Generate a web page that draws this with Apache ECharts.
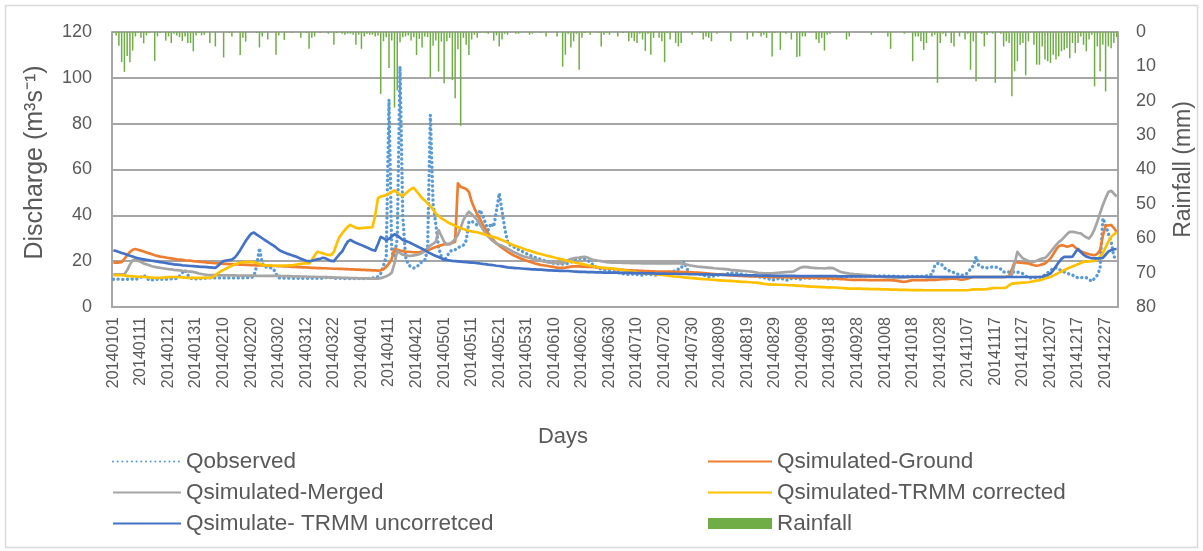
<!DOCTYPE html>
<html>
<head>
<meta charset="utf-8">
<script src="https://cdn.jsdelivr.net/npm/echarts@6/dist/echarts.min.js"></script>
<style>
  html, body { margin: 0; padding: 0; background: #ffffff; }
  #chart { width: 1203px; height: 551px; }
</style>
</head>
<body>
<div id="chart"></div>
<script>
// Daily discharge and rainfall, 1 Jan 2014 - 31 Dec 2014

// Category axis: one entry per day, formatted YYYYMMDD
const YEAR = 2014;
const DAY_COUNT = 365;
const days = [];
for (let i = 0; i < DAY_COUNT; i++) {
  const d = new Date(Date.UTC(YEAR, 0, 1 + i));
  days.push(d.toISOString().slice(0, 10).replace(/-/g, ''));
}

// Daily rainfall (mm), right axis, drawn downward from the top
const rainfall = [
  0.3, 1.0, 4.0, 8.7, 11.6, 7.0, 8.8, 5.4, 1.3, 0.3,
  1.7, 3.3, 1.0, 0.3, 0, 8.4, 1.3, 0.3, 0, 2.5,
  1.3, 3.2, 0.5, 1.0, 1.5, 2.6, 1.3, 3.2, 3.2, 5.6,
  1.0, 0.3, 1.0, 0.8, 0, 3.2, 0, 4.2, 0, 0,
  7.4, 0, 0.3, 1.3, 0, 0, 6.7, 1.7, 2.8, 0,
  0, 0, 0.3, 4.5, 1.3, 0, 2.2, 0, 0, 6.6,
  1.0, 0, 2.3, 0, 0, 0.3, 0, 0, 1.7, 0,
  0.3, 4.9, 1.7, 1.3, 0, 0.3, 0, 0, 0.5, 0,
  3.7, 0.3, 0, 0.5, 0.8, 0.5, 0.5, 0.8, 3.7, 0.8,
  4.9, 1.3, 0.5, 0.8, 0.8, 1.3, 1.0, 18.0, 2.7, 1.5,
  10.5, 2.5, 22.0, 17.0, 3.0, 1.5, 1.3, 1.0, 2.5, 1.5,
  6.7, 2.0, 4.5, 1.3, 1.5, 13.2, 4.0, 2.5, 11.5, 2.8,
  14.9, 2.7, 1.7, 14.0, 19.3, 5.0, 27.3, 1.7, 3.7, 6.7,
  2.2, 0.8, 1.7, 0.3, 0, 0.3, 0.5, 0, 2.5, 1.0,
  4.2, 2.2, 0.5, 0.8, 0, 0, 0.5, 0.5, 0, 0,
  0, 0.8, 0.5, 0, 0, 0.3, 0, 1.3, 0, 0,
  0, 1.3, 0, 10.1, 6.6, 0.5, 4.5, 2.7, 0.5, 11.0,
  1.7, 0.3, 0, 0.8, 0, 0, 0.3, 4.2, 0.8, 0.3,
  0.8, 0, 0, 1.3, 0, 0.3, 0, 2.7, 1.7, 2.7,
  3.2, 0.5, 2.2, 5.5, 0.5, 6.6, 1.7, 0, 1.7, 2.7,
  8.8, 0.3, 2.2, 0, 3.2, 4.2, 3.2, 0, 0, 0,
  0.8, 0, 0, 0.3, 2.2, 1.3, 1.7, 2.7, 0, 0.5,
  0, 0, 0, 0, 2.7, 0, 0, 0, 0, 0,
  2.2, 0, 1.3, 0, 0.3, 1.3, 0.8, 1.7, 0, 7.1,
  0.3, 0, 5.2, 0, 0.5, 0, 2.2, 0, 7.3, 7.1,
  1.3, 1.3, 0, 0, 0, 2.2, 3.2, 1.7, 5.4, 0.8,
  0.5, 0, 0, 0, 0, 0, 2.2, 1.3, 0, 0,
  0, 0, 0, 0, 0, 0.8, 0, 0, 0, 0,
  0, 1.3, 4.9, 0, 0, 0, 0, 0.5, 0, 0,
  8.5, 1.3, 1.3, 2.7, 5.2, 3.2, 0, 1.3, 0.8, 14.8,
  3.2, 0.5, 1.3, 0, 3.2, 4.2, 0, 1.3, 0, 2.2,
  0.5, 11.0, 2.7, 14.3, 0, 0.5, 4.2, 0.8, 0, 0.5,
  14.8, 0, 0.5, 4.2, 2.7, 3.2, 18.7, 11.4, 8.5, 3.7,
  3.2, 12.6, 2.7, 0, 3.7, 9.5, 9.5, 4.2, 8.0, 8.5,
  9.0, 6.6, 8.0, 7.1, 5.6, 5.2, 4.7, 7.6, 3.2, 6.1,
  3.2, 1.3, 3.7, 5.6, 2.2, 0.8, 15.8, 4.2, 11.4, 3.7,
  17.3, 4.2, 4.7, 3.2, 1.5
];

// Observed discharge (m3/s)
const qObserved = [
  12.1, 12.1, 12.2, 12.1, 12.0, 12.1, 12.3, 12.2, 12.1, 12.3,
  13.0, 13.9, 12.8, 11.7, 11.8, 12.0, 12.1, 12.2, 12.0, 12.1,
  12.2, 12.3, 12.3, 12.4, 13.5, 15.0, 16.1, 14.0, 12.5, 12.4,
  12.3, 12.3, 12.4, 12.5, 12.6, 12.7, 12.7, 12.7, 12.7, 12.7,
  12.7, 12.7, 12.7, 12.7, 12.7, 12.7, 12.7, 12.7, 12.8, 12.8,
  12.8, 13.5, 18.0, 25.7, 19.0, 17.5, 17.3, 17.1, 16.8, 14.5,
  12.7, 12.7, 12.6, 12.6, 12.6, 12.6, 12.5, 12.5, 12.5, 12.5,
  12.5, 12.5, 12.5, 12.5, 12.5, 12.5, 12.6, 12.8, 13.1, 12.8,
  12.6, 12.5, 12.5, 12.5, 12.4, 12.4, 12.4, 12.4, 12.4, 12.4,
  12.4, 12.4, 12.5, 12.5, 12.6, 12.8, 13.2, 14.6, 18.0, 22.0,
  90.5, 24.0, 22.0, 30.0, 105.0, 40.0, 22.0, 18.5, 17.5, 17.0,
  17.5, 18.5, 20.0, 20.5, 25.0, 83.8, 45.0, 36.0, 26.0, 22.0,
  20.0, 22.0, 24.0, 25.0, 25.0, 26.0, 26.3, 27.0, 29.0, 37.0,
  37.5, 36.5, 35.8, 42.3, 40.0, 36.5, 33.6, 36.5, 35.0, 42.0,
  49.6, 42.0, 34.3, 28.5, 27.0, 26.3, 25.8, 25.0, 24.5, 23.8,
  23.2, 22.6, 22.0, 21.6, 21.2, 20.8, 20.4, 20.0, 19.6, 19.3,
  19.0, 18.9, 18.8, 18.7, 18.8, 19.0, 19.5, 20.5, 21.0, 21.2,
  21.2, 21.0, 20.5, 19.5, 18.5, 17.5, 17.0, 16.5, 16.2, 16.0,
  15.8, 15.5, 15.2, 15.0, 14.8, 14.5, 14.3, 14.2, 14.2, 14.5,
  14.2, 14.0, 13.9, 14.2, 14.5, 14.2, 14.0, 13.9, 14.2, 14.5,
  14.8, 15.0, 15.3, 15.5, 15.8, 16.5, 16.8, 19.7, 16.8, 15.2,
  14.8, 14.6, 14.5, 14.4, 14.0, 13.5, 13.1, 13.3, 13.6, 13.8,
  14.0, 14.2, 14.4, 14.6, 14.8, 15.0, 14.8, 14.5, 14.3, 14.0,
  13.9, 13.7, 13.6, 13.4, 13.2, 13.0, 12.8, 12.5, 12.2, 11.7,
  12.0, 12.3, 12.6, 12.2, 11.7, 11.8, 12.5, 12.7, 12.4, 12.1,
  12.4, 12.7, 12.7, 12.5, 12.7, 12.7, 12.5, 12.7, 12.8, 12.4,
  12.1, 12.3, 12.6, 12.9, 13.1, 13.2, 13.3, 13.4, 13.4, 13.5,
  13.5, 13.5, 13.5, 13.5, 13.5, 13.5, 13.5, 13.5, 13.5, 13.5,
  13.5, 13.5, 13.4, 13.4, 13.4, 13.3, 13.3, 13.3, 13.3, 13.3,
  13.3, 13.3, 13.3, 13.3, 13.4, 13.6, 13.9, 14.2, 18.0, 19.0,
  19.0, 18.0, 16.5, 16.0, 15.3, 15.0, 14.5, 14.0, 13.9, 14.0,
  15.0, 16.5, 18.0, 21.9, 18.0, 17.5, 17.1, 17.1, 17.3, 17.5,
  17.4, 17.2, 16.5, 15.3, 15.3, 15.3, 15.3, 15.3, 15.2, 15.0,
  14.5, 13.5, 12.7, 12.7, 12.8, 12.9, 13.0, 13.2, 14.0, 15.0,
  16.0, 16.8, 17.1, 16.5, 15.8, 15.3, 14.8, 14.3, 13.9, 13.3,
  12.7, 12.8, 12.9, 12.8, 12.0, 11.2, 12.5, 13.9, 16.8, 38.7,
  36.0, 32.0, 28.5, 22.0, 21.0
];

// Simulated discharge driven by ground-station rainfall (m3/s)
const qGround = [
  19.4, 19.4, 19.4, 19.6, 21.0, 22.6, 24.0, 25.0, 25.3, 25.0,
  24.6, 24.2, 23.8, 23.4, 23.0, 22.6, 22.3, 22.0, 21.8, 21.6,
  21.4, 21.2, 21.0, 20.8, 20.7, 20.6, 20.4, 20.3, 20.2, 20.0,
  19.9, 19.8, 19.7, 19.6, 19.4, 19.3, 19.2, 19.1, 19.0, 18.9,
  18.8, 18.8, 18.7, 18.7, 18.6, 18.6, 18.5, 18.5, 18.4, 18.4,
  18.3, 18.3, 18.2, 18.2, 18.1, 18.1, 18.0, 18.0, 17.9, 17.9,
  17.8, 17.8, 17.7, 17.7, 17.6, 17.5, 17.5, 17.4, 17.4, 17.3,
  17.3, 17.2, 17.1, 17.1, 17.0, 17.0, 16.9, 16.9, 16.8, 16.8,
  16.7, 16.7, 16.6, 16.6, 16.5, 16.5, 16.4, 16.4, 16.3, 16.3,
  16.2, 16.2, 16.1, 16.1, 16.0, 16.0, 15.9, 16.0, 16.5, 17.5,
  19.0, 21.0, 25.5, 25.0, 24.6, 24.4, 24.2, 24.1, 24.0, 23.9,
  23.8, 23.9, 24.2, 24.5, 24.8, 25.2, 25.7, 26.2, 26.6, 27.0,
  27.3, 27.5, 27.7, 28.0, 28.5, 54.0, 52.4, 52.0, 51.5, 50.2,
  46.0, 43.0, 40.5, 38.5, 36.0, 34.0, 32.2, 30.5, 29.0, 27.7,
  26.8, 25.9, 25.0, 24.2, 23.4, 22.7, 22.1, 21.6, 21.1, 20.6,
  20.2, 19.8, 19.4, 19.0, 18.7, 18.4, 18.2, 18.0, 17.8, 17.6,
  17.4, 17.2, 17.1, 17.1, 17.2, 17.4, 17.6, 17.7, 17.7, 17.7,
  17.6, 17.6, 17.5, 17.5, 17.5, 17.4, 17.3, 17.1, 17.0, 16.9,
  16.8, 16.7, 16.5, 16.4, 16.3, 16.2, 16.1, 16.0, 16.0, 15.9,
  15.9, 15.8, 15.8, 15.7, 15.7, 15.6, 15.6, 15.5, 15.5, 15.5,
  15.4, 15.4, 15.4, 15.3, 15.3, 15.3, 15.2, 15.2, 15.2, 15.1,
  15.1, 15.0, 15.0, 14.9, 14.8, 14.7, 14.6, 14.5, 14.4, 14.3,
  14.2, 14.1, 14.0, 13.9, 13.8, 13.8, 13.7, 13.6, 13.6, 13.5,
  13.5, 13.4, 13.4, 13.3, 13.3, 13.2, 13.2, 13.1, 13.1, 13.0,
  13.0, 13.0, 13.0, 13.0, 13.0, 12.9, 12.9, 12.9, 12.8, 12.8,
  12.8, 12.7, 12.7, 12.7, 12.7, 12.7, 12.6, 12.6, 12.6, 12.6,
  12.5, 12.5, 12.4, 12.3, 12.2, 12.1, 12.0, 11.9, 11.8, 11.8,
  11.8, 11.8, 11.8, 11.8, 11.7, 11.7, 11.7, 11.7, 11.7, 11.7,
  11.7, 11.7, 11.7, 11.6, 11.5, 11.3, 11.1, 11.0, 11.2, 11.5,
  11.7, 11.7, 11.7, 11.7, 11.7, 11.7, 11.8, 11.8, 11.8, 11.9,
  12.0, 12.1, 12.2, 12.3, 12.4, 12.4, 12.3, 12.0, 11.9, 12.1,
  12.4, 12.8, 13.1, 13.1, 13.1, 13.1, 13.1, 13.1, 13.1, 13.1,
  13.1, 13.1, 13.1, 13.1, 13.2, 13.5, 16.5, 19.7, 19.5, 19.3,
  19.2, 19.1, 19.0, 18.6, 18.2, 18.0, 18.2, 18.6, 19.0, 20.0,
  21.2, 23.0, 25.0, 26.5, 27.0, 26.7, 26.3, 26.6, 27.0, 26.0,
  24.8, 24.3, 23.8, 23.4, 23.0, 22.8, 22.6, 23.2, 24.8, 31.0,
  35.5, 35.6, 35.8, 34.5, 32.8
];

// Simulated discharge driven by merged rainfall (m3/s)
const qMerged = [
  14.2, 14.2, 14.2, 14.2, 14.3, 16.0, 18.5, 20.4, 20.8, 20.2,
  19.6, 19.0, 18.6, 18.2, 17.8, 17.5, 17.3, 17.1, 16.9, 16.7,
  16.5, 16.4, 16.2, 16.1, 16.0, 15.8, 15.7, 15.5, 15.4, 15.3,
  15.0, 14.6, 14.4, 14.2, 14.0, 13.9, 13.9, 13.9, 13.8, 13.8,
  13.8, 13.8, 13.8, 13.8, 13.8, 13.7, 13.7, 13.7, 13.7, 13.7,
  13.7, 13.7, 13.6, 13.6, 13.6, 13.6, 13.6, 13.6, 13.6, 13.6,
  13.6, 13.5, 13.5, 13.5, 13.5, 13.4, 13.4, 13.4, 13.3, 13.3,
  13.3, 13.2, 13.2, 13.2, 13.1, 13.1, 13.0, 13.0, 12.9, 12.9,
  12.8, 12.8, 12.8, 12.7, 12.7, 12.7, 12.6, 12.6, 12.6, 12.5,
  12.5, 12.5, 12.5, 12.4, 12.4, 12.4, 12.4, 12.6, 13.0, 13.4,
  14.0, 15.0, 19.0, 24.5, 23.5, 22.8, 22.6, 22.4, 22.3, 22.5,
  22.7, 23.0, 23.6, 24.6, 25.7, 26.8, 27.6, 28.5, 33.6, 31.0,
  28.5, 27.3, 27.3, 28.5, 29.5, 31.5, 34.5, 38.0, 40.0, 41.6,
  40.5, 39.2, 38.0, 36.0, 34.0, 32.3, 30.7, 29.5, 28.5, 27.7,
  27.2, 26.7, 26.1, 25.5, 24.8, 24.1, 23.6, 23.0, 22.5, 22.0,
  21.7, 21.4, 21.1, 20.8, 20.5, 20.2, 19.9, 19.7, 19.5, 19.3,
  19.2, 19.1, 19.0, 19.0, 19.5, 20.5, 20.9, 21.2, 21.5, 21.6,
  21.8, 21.9, 21.6, 21.0, 20.6, 20.4, 20.2, 20.0, 19.8, 19.6,
  19.5, 19.4, 19.4, 19.3, 19.3, 19.2, 19.2, 19.2, 19.1, 19.1,
  19.1, 19.1, 19.0, 19.0, 19.0, 19.0, 19.0, 19.0, 19.0, 19.0,
  19.0, 19.0, 19.0, 19.0, 19.0, 19.0, 19.0, 18.8, 18.5, 18.2,
  18.0, 17.8, 17.6, 17.5, 17.4, 17.3, 17.2, 17.1, 16.9, 16.8,
  16.7, 16.6, 16.5, 16.4, 16.2, 16.1, 16.0, 15.9, 15.8, 15.7,
  15.6, 15.5, 15.3, 15.1, 14.9, 14.8, 14.7, 14.7, 14.7, 14.7,
  14.8, 14.9, 15.0, 15.1, 15.2, 15.3, 15.3, 15.6, 16.3, 17.0,
  17.4, 17.5, 17.4, 17.2, 17.1, 17.0, 16.9, 16.9, 16.8, 17.0,
  17.1, 17.0, 16.4, 15.8, 15.3, 15.0, 14.8, 14.6, 14.5, 14.3,
  14.2, 14.1, 14.0, 13.9, 13.8, 13.7, 13.5, 13.4, 13.2, 13.1,
  13.0, 12.9, 12.9, 12.8, 12.8, 12.7, 12.7, 12.8, 12.9, 13.0,
  13.1, 13.1, 13.1, 13.1, 13.1, 13.1, 13.1, 13.1, 13.1, 13.1,
  13.1, 13.1, 13.1, 13.1, 13.1, 13.1, 13.1, 13.1, 13.1, 13.1,
  13.1, 13.1, 13.1, 13.1, 13.1, 13.1, 13.1, 13.1, 13.1, 13.1,
  13.1, 13.1, 13.1, 13.1, 13.2, 13.4, 14.0, 19.0, 24.1, 22.5,
  21.2, 20.6, 20.1, 19.7, 19.7, 20.2, 20.7, 21.2, 21.4, 22.5,
  24.0, 25.5, 27.0, 28.3, 29.2, 30.5, 31.8, 32.8, 32.8, 32.6,
  32.3, 32.1, 31.2, 30.4, 29.9, 31.5, 34.0, 37.2, 41.0, 44.5,
  47.5, 50.2, 50.7, 49.5, 48.2
];

// Simulated discharge driven by bias-corrected TRMM rainfall (m3/s)
const qTrmmCorrected = [
  13.9, 13.9, 13.9, 13.9, 13.8, 13.6, 13.5, 13.4, 13.3, 13.2,
  13.2, 13.1, 13.0, 12.9, 12.8, 12.7, 12.7, 12.7, 12.8, 12.9,
  13.0, 13.1, 13.1, 13.1, 13.0, 12.9, 12.8, 12.7, 12.7, 12.7,
  12.7, 12.7, 12.7, 12.7, 12.7, 12.7, 13.0, 13.9, 14.8, 15.6,
  16.2, 16.8, 17.4, 18.0, 18.6, 19.0, 19.3, 19.5, 19.6, 19.7,
  19.7, 19.5, 19.2, 18.8, 18.5, 18.2, 18.2, 18.1, 18.0, 18.0,
  18.0, 18.0, 18.1, 18.1, 18.2, 18.2, 18.4, 18.6, 18.8, 19.0,
  19.0, 19.0, 20.5, 22.5, 24.1, 23.8, 23.4, 23.0, 22.7, 22.6,
  24.0, 27.5, 30.5, 32.1, 33.6, 35.0, 35.8, 35.2, 34.6, 34.3,
  34.4, 34.5, 34.6, 34.7, 34.8, 40.0, 47.5, 48.2, 48.5, 48.9,
  49.5, 50.2, 50.9, 50.0, 49.0, 48.4, 49.5, 50.5, 51.5, 52.0,
  50.5, 49.0, 47.5, 46.5, 45.2, 44.0, 42.5, 40.8, 39.8, 38.7,
  38.0, 37.2, 36.5, 36.0, 35.4, 34.9, 34.4, 34.0, 33.6, 33.3,
  33.0, 32.8, 32.6, 32.3, 31.9, 31.5, 31.1, 30.8, 30.5, 30.2,
  29.7, 29.2, 28.7, 28.2, 27.6, 27.0, 26.6, 26.2, 25.8, 25.3,
  24.9, 24.6, 24.2, 23.8, 23.4, 23.1, 22.8, 22.5, 22.2, 21.9,
  21.6, 21.3, 21.0, 20.8, 20.4, 20.1, 19.8, 19.5, 19.2, 19.0,
  18.8, 18.5, 18.2, 18.0, 17.8, 17.5, 17.4, 17.2, 17.1, 17.0,
  16.9, 16.8, 16.7, 16.5, 16.3, 16.1, 15.9, 15.7, 15.5, 15.3,
  15.1, 14.9, 14.8, 14.7, 14.6, 14.5, 14.4, 14.2, 14.1, 14.0,
  13.9, 13.7, 13.6, 13.4, 13.3, 13.2, 13.1, 12.9, 12.8, 12.7,
  12.6, 12.5, 12.4, 12.3, 12.2, 12.1, 12.0, 11.9, 11.8, 11.7,
  11.6, 11.5, 11.5, 11.4, 11.4, 11.3, 11.2, 11.1, 11.0, 11.0,
  10.9, 10.8, 10.7, 10.6, 10.5, 10.3, 10.1, 10.0, 9.9, 9.8,
  9.8, 9.7, 9.7, 9.6, 9.6, 9.5, 9.5, 9.4, 9.3, 9.2,
  9.2, 9.1, 9.0, 8.9, 8.9, 8.8, 8.8, 8.7, 8.7, 8.6,
  8.6, 8.5, 8.5, 8.4, 8.3, 8.2, 8.1, 8.0, 8.0, 8.0,
  8.0, 8.0, 7.9, 7.9, 7.9, 7.8, 7.8, 7.8, 7.8, 7.7,
  7.7, 7.7, 7.6, 7.6, 7.6, 7.5, 7.5, 7.5, 7.5, 7.4,
  7.4, 7.4, 7.4, 7.4, 7.3, 7.3, 7.3, 7.3, 7.3, 7.3,
  7.3, 7.3, 7.3, 7.3, 7.3, 7.3, 7.3, 7.3, 7.3, 7.3,
  7.3, 7.5, 7.7, 7.7, 7.7, 7.7, 7.7, 7.8, 8.0, 8.2,
  8.3, 8.3, 8.3, 8.3, 8.5, 9.5, 10.2, 10.3, 10.4, 10.5,
  10.6, 10.7, 10.8, 11.0, 11.3, 11.5, 11.7, 12.0, 12.5, 12.8,
  13.1, 13.7, 14.3, 14.9, 15.5, 16.1, 16.7, 17.2, 17.7, 18.2,
  18.7, 19.2, 19.7, 19.8, 19.9, 20.0, 20.1, 20.8, 21.9, 23.5,
  26.0, 28.5, 30.5, 31.6, 32.6
];

// Simulated discharge driven by uncorrected TRMM rainfall (m3/s)
const qTrmmUncorrected = [
  24.8, 24.4, 24.0, 23.6, 23.2, 22.8, 22.4, 22.0, 21.6, 21.3,
  21.0, 20.8, 20.6, 20.4, 20.2, 20.0, 19.8, 19.6, 19.4, 19.2,
  19.0, 18.8, 18.6, 18.5, 18.4, 18.2, 18.1, 18.0, 17.9, 17.8,
  17.7, 17.6, 17.5, 17.5, 17.4, 17.3, 17.2, 17.1, 18.0, 19.2,
  20.0, 20.3, 20.5, 20.7, 21.5, 23.0, 24.8, 26.8, 28.8, 30.5,
  32.0, 32.5, 31.6, 30.8, 30.0, 29.2, 28.4, 27.6, 26.9, 26.0,
  25.0, 24.3, 23.8, 23.3, 22.9, 22.5, 22.1, 21.6, 21.1, 20.6,
  20.2, 20.0, 20.2, 20.5, 20.8, 21.0, 21.5, 21.2, 20.6, 20.1,
  20.0, 21.5, 23.0, 24.2, 26.5, 28.5, 29.3, 28.6, 28.0, 27.5,
  27.0, 26.5, 26.0, 25.4, 24.9, 24.6, 27.5, 30.6, 30.0, 29.2,
  29.8, 30.8, 31.7, 31.2, 30.2, 29.2, 28.8, 28.4, 27.8, 27.2,
  26.6, 26.0, 25.4, 24.8, 24.0, 23.4, 22.8, 22.3, 21.8, 21.3,
  20.8, 20.5, 20.3, 20.1, 20.0, 19.9, 19.8, 19.7, 19.6, 19.5,
  19.4, 19.3, 19.1, 19.0, 18.8, 18.7, 18.5, 18.4, 18.2, 18.0,
  17.9, 17.7, 17.5, 17.3, 17.2, 17.1, 17.0, 16.9, 16.8, 16.7,
  16.6, 16.5, 16.4, 16.4, 16.3, 16.3, 16.2, 16.1, 16.0, 16.0,
  15.9, 15.9, 15.8, 15.8, 15.7, 15.7, 15.6, 15.5, 15.4, 15.3,
  15.3, 15.3, 15.2, 15.2, 15.2, 15.1, 15.1, 15.1, 15.0, 15.0,
  15.0, 15.0, 15.0, 15.0, 14.9, 14.9, 14.9, 14.9, 14.9, 14.8,
  14.8, 14.8, 14.8, 14.7, 14.7, 14.7, 14.7, 14.6, 14.6, 14.6,
  14.6, 14.5, 14.5, 14.5, 14.5, 14.4, 14.4, 14.4, 14.4, 14.3,
  14.3, 14.3, 14.3, 14.2, 14.2, 14.2, 14.2, 14.1, 14.1, 14.1,
  14.1, 14.0, 14.0, 14.0, 14.0, 13.9, 13.9, 13.9, 13.9, 13.8,
  13.8, 13.8, 13.8, 13.8, 13.7, 13.7, 13.7, 13.7, 13.7, 13.6,
  13.6, 13.6, 13.6, 13.6, 13.6, 13.6, 13.6, 13.6, 13.5, 13.5,
  13.5, 13.5, 13.5, 13.5, 13.5, 13.5, 13.5, 13.5, 13.5, 13.5,
  13.5, 13.5, 13.5, 13.4, 13.4, 13.4, 13.4, 13.4, 13.4, 13.4,
  13.4, 13.4, 13.3, 13.3, 13.3, 13.3, 13.3, 13.3, 13.3, 13.3,
  13.3, 13.3, 13.3, 13.3, 13.3, 13.2, 13.2, 13.2, 13.2, 13.2,
  13.2, 13.2, 13.2, 13.2, 13.2, 13.1, 13.1, 13.1, 13.1, 13.1,
  13.1, 13.1, 13.1, 13.1, 13.1, 13.1, 13.1, 13.1, 13.1, 13.1,
  13.1, 13.1, 13.1, 13.1, 13.1, 13.1, 13.1, 13.1, 13.1, 13.1,
  13.1, 13.1, 13.1, 13.1, 13.1, 13.1, 13.1, 13.1, 13.1, 13.1,
  13.1, 13.1, 13.1, 13.1, 13.1, 13.1, 13.1, 13.2, 13.6, 14.0,
  14.6, 16.0, 17.8, 19.5, 21.0, 21.9, 21.9, 21.9, 22.0, 23.8,
  25.3, 24.0, 22.8, 22.0, 21.6, 21.3, 21.2, 21.2, 21.2, 21.4,
  22.8, 24.2, 24.8, 25.2, 25.3
];

const FONT = '"Liberation Sans", Arial, Helvetica, sans-serif';
const TEXT_GREY = '#595959';
const RULE_GREY = '#a6a6a6';
const LINE_W = 2.7;

const chart = echarts.init(document.getElementById('chart'), null, { renderer: 'canvas' });

const lineSeries = (name, data, color, lineStyle) => ({
  name: name,
  type: 'line',
  data: data,
  yAxisIndex: 0,
  symbol: 'none',
  showSymbol: false,
  smooth: false,
  itemStyle: { color: color },
  lineStyle: Object.assign({ color: color, width: LINE_W, join: 'round' }, lineStyle || {}),
  emphasis: { disabled: true }
});

// Legend entries for lines: hide the marker dot, keep the stroke
const lineKey = (name) => ({ name: name, itemStyle: { opacity: 0 } });

const legendBase = {
  orient: 'vertical',
  top: 450,
  padding: 0,
  itemGap: 8,
  itemHeight: 11,
  selectedMode: false,
  textStyle: { fontSize: 22.5, lineHeight: 22, color: TEXT_GREY, fontFamily: FONT }
};

chart.setOption({
  animation: false,
  backgroundColor: '#ffffff',
  textStyle: { fontFamily: FONT },
  grid: { left: 112, top: 32, width: 1014, height: 275, containLabel: false },
  xAxis: {
    type: 'category',
    data: days,
    boundaryGap: true,
    axisLine: { show: true, lineStyle: { color: RULE_GREY, width: 2 } },
    axisTick: { show: false },
    splitLine: { show: false },
    axisLabel: {
      interval: 9,
      rotate: 90,
      margin: 10,
      fontSize: 16,
      color: TEXT_GREY,
      fontFamily: FONT
    }
  },
  yAxis: [
    {
      type: 'value',
      position: 'left',
      min: 0,
      max: 120,
      interval: 20,
      axisLine: { show: true, lineStyle: { color: RULE_GREY, width: 2 } },
      axisTick: { show: false },
      splitLine: { show: true, lineStyle: { color: RULE_GREY, width: 2 } },
      axisLabel: { fontSize: 18, color: TEXT_GREY, margin: 20, fontFamily: FONT },
      name: 'Discharge (m³s⁻¹)',
      nameLocation: 'middle',
      nameGap: 64,
      nameTextStyle: { fontSize: 25, color: TEXT_GREY, fontFamily: FONT, padding: [0, 0, 0, 14] }
    },
    {
      type: 'value',
      position: 'right',
      min: 0,
      max: 80,
      interval: 10,
      inverse: true,
      axisLine: { show: true, lineStyle: { color: RULE_GREY, width: 2 } },
      axisTick: { show: false },
      splitLine: { show: false },
      axisLabel: { fontSize: 18, color: TEXT_GREY, margin: 18, fontFamily: FONT },
      name: 'Rainfall (mm)',
      nameLocation: 'middle',
      nameRotate: 90,
      nameGap: 54,
      nameTextStyle: { fontSize: 23, color: TEXT_GREY, fontFamily: FONT }
    }
  ],
  legend: [
    Object.assign({}, legendBase, {
      left: 112,
      itemWidth: 68,
      data: [lineKey('Qobserved'), lineKey('Qsimulated-Merged'), lineKey('Qsimulate- TRMM uncorretced')]
    }),
    Object.assign({}, legendBase, {
      left: 707,
      itemWidth: 64,
      data: [lineKey('Qsimulated-Ground'), lineKey('Qsimulated-TRMM corrected'), { name: 'Rainfall', icon: 'rect' }]
    })
  ],
  graphic: [
    {
      type: 'rect',
      silent: true,
      z: -10,
      shape: { x: 5.5, y: 5.5, width: 1192, height: 542 },
      style: { fill: 'none', stroke: '#d9d9d9', lineWidth: 1.5 }
    },
    {
      type: 'text',
      silent: true,
      x: 563,
      y: 437,
      style: {
        text: 'Days',
        fontSize: 22,
        fontFamily: FONT,
        fill: TEXT_GREY,
        align: 'center',
        verticalAlign: 'middle'
      }
    }
  ],
  series: [
    lineSeries('Qobserved', qObserved, '#5b9bd5', { width: 3.4, type: [0.1, 4.6], cap: 'round' }),
    lineSeries('Qsimulated-Ground', qGround, '#ed7d31'),
    lineSeries('Qsimulated-Merged', qMerged, '#a5a5a5'),
    lineSeries('Qsimulated-TRMM corrected', qTrmmCorrected, '#ffc000'),
    lineSeries('Qsimulate- TRMM uncorretced', qTrmmUncorrected, '#4472c4'),
    {
      name: 'Rainfall',
      type: 'bar',
      yAxisIndex: 1,
      data: rainfall,
      barWidth: 1.5,
      itemStyle: { color: '#70ad47' },
      emphasis: { disabled: true }
    }
  ]
});
</script>
</body>
</html>
